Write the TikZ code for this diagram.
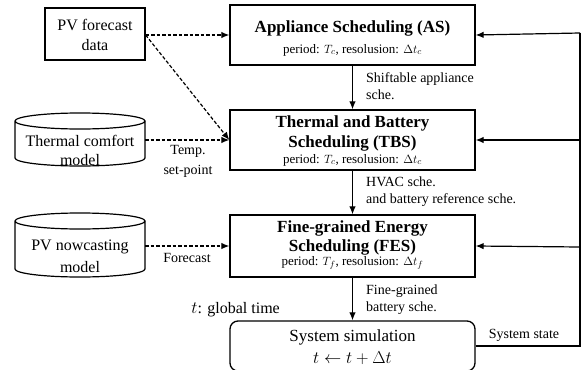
\documentclass[tikz,border=0pt]{standalone}
\usepackage{fontspec}
\setmainfont{Liberation Serif}
\usetikzlibrary{arrows.meta}
\begin{document}
\begin{tikzpicture}[x=1pt,y=-1pt,
  box/.style={draw,line width=1.3pt,minimum width=245pt,align=center,inner sep=0pt},
  srcbox/.style={draw,line width=1.2pt,align=center,inner sep=0pt},
  big/.style={font=\fontsize{16}{19}\selectfont},
  lbl/.style={align=left,inner sep=0pt,font=\fontsize{14}{17}\selectfont},
  ttl/.style={font=\fontsize{17}{20}\selectfont\bfseries},
  sub/.style={font=\fontsize{13}{15}\selectfont},
  flow/.style={line width=1.2pt,-{Latex[length=8pt,width=6.5pt]}},
  dflow/.style={line width=1.2pt,dash pattern=on 3.5pt off 2pt,-{Latex[length=8pt,width=6.5pt]}},
  cyl/.style={line width=1.2pt}
]
\useasboundingbox (0,0) rectangle (585,369);

% main boxes
\node[box,minimum height=60pt] (as) at (352.5,35) {};
\node[ttl] at (352.5,28) {Appliance Scheduling (AS)};
\node[sub] at (352.5,50) {period: $T_c$, resolusion: $\Delta t_c$};

\node[box,minimum height=60pt] (tbs) at (352.5,140) {};
\node[ttl] at (352.5,123) {Thermal and Battery};
\node[ttl] at (352.5,143) {Scheduling (TBS)};
\node[sub] at (352.5,160) {period: $T_c$, resolusion: $\Delta t_c$};

\node[box,minimum height=62pt] (fes) at (352.5,246) {};
\node[ttl] at (352.5,228) {Fine-grained Energy};
\node[ttl] at (352.5,247) {Scheduling (FES)};
\node[sub] at (352.5,263) {period: $T_f$, resolusion: $\Delta t_f$};

% system simulation
\node[draw,line width=1.3pt,rounded corners=8pt,minimum width=245pt,minimum height=50pt,inner sep=0pt] (sim) at (352.5,346) {};
\node[font=\fontsize{17}{20}\selectfont] at (352.5,337) {System simulation};
\node[font=\fontsize{17}{20}\selectfont] at (352.5,358) {$t \leftarrow t + \Delta t$};

% PV forecast data
\node[srcbox,minimum width=100pt,minimum height=52pt] (pvf) at (95,34) {};
\node[big] at (95,25) {PV forecast};
\node[big] at (95,45) {data};

% cylinders
\draw[cyl] (15,121) arc[start angle=180,end angle=360,x radius=65pt,y radius=8pt]
  arc[start angle=0,end angle=180,x radius=65pt,y radius=8pt] -- (15,158)
  arc[start angle=180,end angle=360,x radius=65pt,y radius=8pt] -- (145,121);
\node[inner sep=0pt,minimum width=130pt,minimum height=40pt] (thermal) at (80,141) {};
\node[big] at (80,141) {Thermal comfort};
\node[big] at (80,160) {model};

\draw[cyl] (15,221) arc[start angle=180,end angle=360,x radius=65pt,y radius=8pt]
  arc[start angle=0,end angle=180,x radius=65pt,y radius=8pt] -- (15,269)
  arc[start angle=180,end angle=360,x radius=65pt,y radius=8pt] -- (145,221);
\node[inner sep=0pt,minimum width=130pt,minimum height=40pt] (pvn) at (80,247) {};
\node[big] at (80,247) {PV nowcasting};
\node[big] at (80,267) {model};

% dashed inputs
\draw[dflow] (pvf.east |- as.west) -- (as.west);
\draw[dflow] (pvf.east |- as.west) -- (tbs.west);
\draw[dflow] (thermal.east |- tbs.west) -- (tbs.west);
\draw[dflow] (pvn.east |- fes.west) -- (fes.west);
\node[lbl] at (188,151) {Temp.};
\node[lbl] at (188,171) {set-point};
\node[lbl] at (187,258) {Forecast};

% main flow
\draw[flow] (as.south) -- (tbs.north);
\node[lbl,anchor=west] at (366,86) {Shiftable appliance\\sche.};
\draw[flow] (tbs.south) -- (fes.north);
\node[lbl,anchor=west] at (366,192) {HVAC sche.\\and battery reference sche.};
\draw[flow] (fes.south) -- (sim.north);
\node[lbl,anchor=west] at (366,300) {Fine-grained\\battery sche.};
\node[big,anchor=east,inner sep=0pt] at (280,310) {$t$: global time};

% feedback
\coordinate (rr) at (580,346);
\draw[line width=1.2pt] (sim.east) -- (rr) -- (580,33);
\draw[flow] (580,33) -- (as.east);
\draw[flow] (580,140) -- (tbs.east);
\draw[flow] (580,247) -- (fes.east);
\node[lbl] at (524,335) {System state};
\end{tikzpicture}
\end{document}
